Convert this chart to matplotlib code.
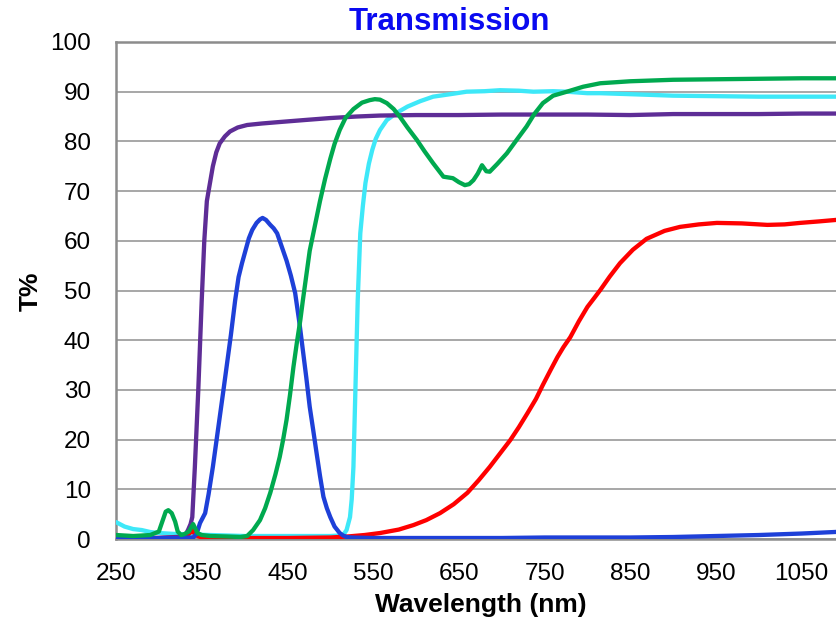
import matplotlib
matplotlib.use("Agg")
import matplotlib.pyplot as plt

plt.rcParams['font.family'] = ['Liberation Sans', 'DejaVu Sans']

# ---------------- data ----------------
purple_wl = [250, 300, 330, 334, 337, 339, 342, 346, 350, 353, 356, 360, 363, 367, 371, 377, 383, 392,
             403, 420, 441, 470, 500, 530, 558, 600, 650, 700, 750, 800, 850, 900, 950, 1000, 1050, 1100]
purple_t = [0.2, 0.2, 0.5, 1.8, 3.0, 4.4, 14.5, 30, 48, 60, 68, 72, 75, 77.8, 79.6, 81, 82, 82.8,
            83.3, 83.6, 83.9, 84.3, 84.7, 85.0, 85.2, 85.3, 85.3, 85.4, 85.4, 85.4, 85.3, 85.5, 85.5, 85.5, 85.6, 85.6]

blue_wl = [250, 300, 340, 344, 348, 354, 358, 363, 367, 371, 375, 379, 384, 389, 393, 397, 401, 405, 409,
           414, 418, 421, 425, 430, 434, 438, 443, 449, 454, 459, 464, 468, 472, 476, 480, 484, 488, 492,
           496, 500, 505, 511, 515, 519, 525, 550, 600, 650, 700, 750, 800, 850, 900, 950, 1000, 1050, 1100]
blue_t = [0.2, 0.2, 0.3, 1.0, 3.2, 5.2, 9.0, 14.5, 19.5, 24.5, 29.5, 34.6, 41, 48, 52.7, 55.5, 58, 60.5, 62.2,
          63.6, 64.3, 64.6, 64.2, 63.2, 62.5, 61.5, 59, 56, 53, 49.5, 43.5, 38, 32.5, 26.6, 22, 17.3, 12.7, 8.5,
          6.2, 4.4, 2.5, 1.2, 0.7, 0.4, 0.3, 0.2, 0.2, 0.2, 0.2, 0.3, 0.3, 0.3, 0.4, 0.6, 0.8, 1.1, 1.5]

green_wl = [250, 270, 290, 300, 304, 308, 311, 315, 319, 322, 326, 330, 335, 340, 345, 350, 360, 380, 395,
            403, 410, 418, 424, 430, 436, 441, 445, 449, 453, 457, 461, 465, 468, 472, 476, 482, 488, 494,
            500, 505, 511, 518, 527, 537, 546, 552, 558, 566, 574, 581, 590, 601, 610, 620, 632, 643, 650,
            657, 662, 667, 672, 677, 682, 686, 695, 706, 717, 729, 738, 748, 760, 776, 795, 815, 850, 900,
            950, 1000, 1050, 1100]
green_t = [0.8, 0.6, 0.8, 1.5, 3.5, 5.5, 5.8, 5.2, 3.5, 1.5, 0.8, 1.0, 1.5, 3.0, 1.2, 0.8, 0.6, 0.5, 0.4,
           0.6, 1.8, 3.8, 6.2, 9.3, 13, 16.5, 20, 24, 29, 34.6, 39.5, 44, 48, 53, 58, 63, 68, 72.5,
           76.5, 79.5, 82.3, 84.8, 86.5, 87.8, 88.3, 88.5, 88.4, 87.7, 86.5, 85, 82.8, 80.3, 78, 75.6, 72.9, 72.6, 71.8,
           71.2, 71.4, 72.2, 73.5, 75.2, 74.0, 73.9, 75.5, 77.6, 80.2, 83, 85.5, 87.7, 89.2, 90, 91, 91.7, 92.1, 92.4,
           92.5, 92.6, 92.7, 92.7]

cyan_wl = [250, 260, 270, 280, 290, 300, 320, 340, 360, 400, 450, 500, 510, 515, 519, 523, 525, 527, 529,
           531, 532, 535, 538, 541, 545, 549, 553, 558, 566, 578, 590, 605, 620, 640, 659, 680, 698, 720,
           737, 760, 776, 800, 815, 850, 900, 950, 1000, 1050, 1100]
cyan_t = [3.4, 2.5, 2.0, 1.8, 1.4, 1.2, 1.0, 0.9, 0.8, 0.6, 0.6, 0.6, 0.7, 0.8, 1.8, 4.4, 8, 14.5, 28,
          41.4, 48, 61.5, 67, 71.6, 75.5, 78.3, 80.5, 82.3, 84.3, 85.8, 87, 88.1, 89, 89.5, 90, 90.1, 90.3, 90.2,
          90, 90.1, 90, 89.7, 89.7, 89.5, 89.2, 89.1, 89.0, 89.0, 89.0]

red_wl = [250, 300, 330, 338, 340, 342, 350, 400, 450, 500, 520, 540, 558, 580, 597, 612, 628, 644, 660,
          673, 686, 698, 710, 720, 730, 740, 748, 757, 765, 772, 780, 790, 800, 808, 815, 826, 838, 853,
          869, 890, 908, 930, 951, 980, 1010, 1030, 1048, 1070, 1090, 1100]
red_t = [0.2, 0.2, 0.3, 1.5, 2.5, 0.8, 0.3, 0.2, 0.2, 0.3, 0.5, 0.8, 1.2, 1.9, 2.8, 3.8, 5.2, 7.0, 9.3,
         11.8, 14.5, 17.2, 19.9, 22.5, 25.3, 28.2, 31, 34, 36.6, 38.6, 40.6, 43.8, 46.7, 48.5, 50.1, 52.8, 55.5, 58.2,
         60.4, 62, 62.8, 63.3, 63.6, 63.5, 63.2, 63.3, 63.6, 63.9, 64.2, 64.3]

x_ticks = [250, 350, 450, 550, 650, 750, 850, 950, 1050]
y_ticks = [0, 10, 20, 30, 40, 50, 60, 70, 80, 90, 100]

# ---------------- figure ----------------
fig = plt.figure(figsize=(8.36, 6.19), dpi=100)
ax = fig.add_axes([116 / 836, 1 - 539 / 619, 1 - 116 / 836, (539 - 42) / 619])

lw = 3.1
kw = dict(lw=lw, solid_joinstyle='round', solid_capstyle='round')
ax.plot(cyan_wl, cyan_t, color='#3EE8F8', zorder=3, **kw)
ax.plot(purple_wl, purple_t, color='#5E2D96', zorder=4, **kw)
ax.plot(red_wl, red_t, color='#FF0000', zorder=4, **kw)
ax.plot(blue_wl, blue_t, color='#1E40D8', zorder=5, **kw)
ax.plot(green_wl, green_t, color='#00A94F', zorder=6, **kw)

ax.set_xlim(250, 1090)
ax.set_ylim(0, 100)
ax.set_xticks(x_ticks)
ax.set_yticks(y_ticks)
ax.tick_params(axis='both', length=0, labelsize=17.5, colors='black')
ax.tick_params(axis='x', pad=17)
ax.tick_params(axis='y', pad=18)

ax.grid(axis='y', color='#A0A0A0', lw=1.3, zorder=1)
ax.set_axisbelow(True)
for side in ['left', 'top', 'bottom']:
    ax.spines[side].set_color('#8C8C8C')
    ax.spines[side].set_linewidth(1.8)
ax.spines['right'].set_visible(False)

fig.text(449 / 836, 1 - 22 / 619, 'Transmission', color='#0A0AF0', fontsize=22.5, fontweight='bold',
         ha='center', va='center')
fig.text(481 / 836, 1 - 605 / 619, 'Wavelength (nm)', color='black', fontsize=19, fontweight='bold',
         ha='center', va='center')
fig.text(31 / 836, 1 - 291 / 619, 'T%', color='black', fontsize=19, fontweight='bold',
         ha='center', va='center', rotation=90)

fig.savefig('out.png', dpi=100)
